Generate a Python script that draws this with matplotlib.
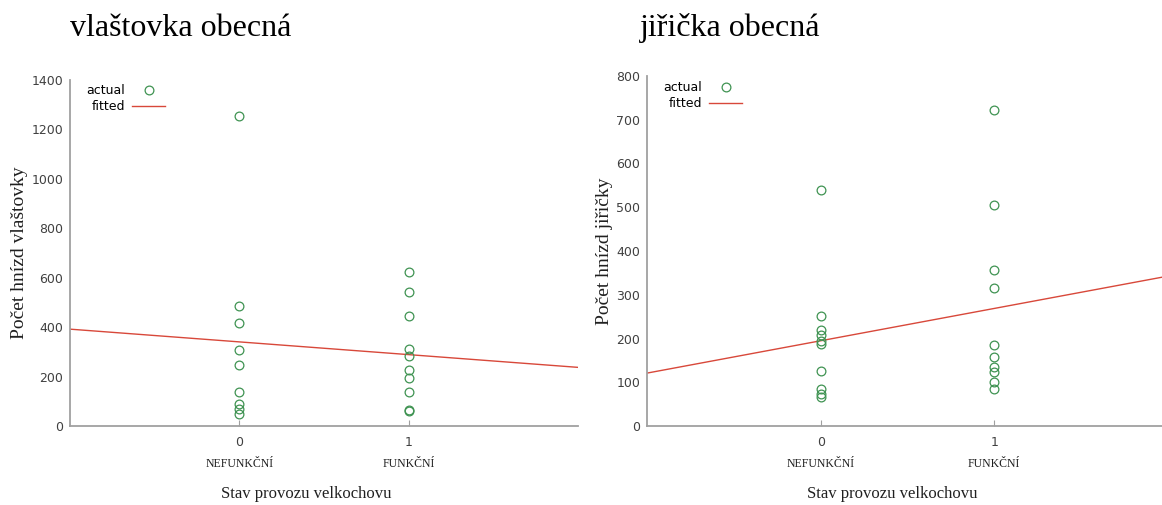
import matplotlib
matplotlib.use("Agg")
import matplotlib.pyplot as plt
import numpy as np
from matplotlib.lines import Line2D
import matplotlib.transforms as mtransforms

# ---- data ----
x_codes = [0, 1]
categories = ["NEFUNKČNÍ", "FUNKČNÍ"]
titles = ["vlaštovka obecná", "jiřička obecná"]
ylabels = ["Počet hnízd vlaštovky", "Počet hnízd jiřičky"]
xlabel = "Stav provozu velkochovu"

vlastovka_0 = [1255, 487, 418, 309, 245, 139, 90, 70, 50]
vlastovka_1 = [624, 541, 446, 310, 283, 227, 193, 139, 65, 60]
jiricka_0 = [539, 252, 220, 208, 194, 187, 125, 84, 73, 66]
jiricka_1 = [722, 505, 357, 315, 185, 158, 136, 124, 101, 84]

ylims = [(0, 1400), (0, 800)]
yticks = [list(range(0, 1401, 200)), list(range(0, 801, 100))]
xlims = [(-1, 2.0), (-1, 1.966)]

W, H = 1162, 505
fig = plt.figure(figsize=(W / 100, H / 100), dpi=100)

# axes boxes in pixels: left, top(px from top), right, bottom
boxes = [(70, 80, 578, 426), (647, 76, 1162, 426)]
title_x = [70, 640]
xlabel_cx = [306, 892]
ylabel_x = [28, 613]
legend_top = [79, 76]
legend_left = [81, 658]

green = "#3f9352"
red = "#d8483a"
axis_col = "#a0a0a0"
tick_col = "#404040"

series = [(vlastovka_0, vlastovka_1), (jiricka_0, jiricka_1)]

for i in range(2):
    l, t, r, b = boxes[i]
    ax = fig.add_axes([l / W, 1 - b / H, (r - l) / W, (b - t) / H])
    g0, g1 = series[i]
    xs = np.array([x_codes[0]] * len(g0) + [x_codes[1]] * len(g1), dtype=float)
    ys = np.array(g0 + g1, dtype=float)
    slope, intercept = np.polyfit(xs, ys, 1)
    xl = np.array(xlims[i])
    ax.plot(xl, intercept + slope * xl, color=red, lw=1.0, zorder=2, label="fitted")
    ax.plot(xs, ys, linestyle="none", marker="o", markersize=6.3, markerfacecolor="none",
            markeredgecolor=green, markeredgewidth=0.9, zorder=3, label="actual")
    ax.set_xlim(*xlims[i])
    ax.set_ylim(*ylims[i])
    ax.set_yticks(yticks[i])
    ax.set_xticks(x_codes)
    ax.set_xticklabels([str(c) for c in x_codes])
    for s in ["top", "right"]:
        ax.spines[s].set_visible(False)
    for s in ["left", "bottom"]:
        ax.spines[s].set_color(axis_col)
        ax.spines[s].set_linewidth(1.3)
    ax.tick_params(axis="y", length=0, pad=5, labelsize=9, labelcolor=tick_col)
    ax.tick_params(axis="x", direction="in", length=4, color=axis_col, pad=7,
                   labelsize=9, labelcolor=tick_col)
    trans = mtransforms.blended_transform_factory(ax.transData, ax.transAxes)
    for xc, cat in zip(x_codes, categories):
        ax.text(xc, -32 / (b - t), cat, transform=trans, ha="center", va="top",
                family="Liberation Serif", fontsize=8.5, color="#202020")
    ax.set_ylabel(ylabels[i], family="Liberation Serif", fontsize=14, color="#202020")
    ax.yaxis.set_label_coords((ylabel_x[i] - l) / (r - l), 0.5)
    fig.text(xlabel_cx[i] / W, 1 - 494 / H, xlabel, ha="center", va="center",
             family="Liberation Serif", fontsize=12, color="#202020")
    fig.text(title_x[i] / W, 1 - 28 / H, titles[i], ha="left", va="center",
             family="Liberation Serif", fontsize=23, color="black")
    handles = [Line2D([], [], linestyle="none", marker="o", markersize=6.3,
                      markerfacecolor="none", markeredgecolor=green, markeredgewidth=0.9),
               Line2D([], [], color=red, lw=1.0)]
    ax.legend(handles, ["actual", "fitted"], loc="upper left", frameon=False,
              markerfirst=False, fontsize=9, handlelength=2.7, handletextpad=0.55,
              labelspacing=0.25, borderaxespad=0.0,
              bbox_to_anchor=((legend_left[i] - l) / (r - l),
                              1 - (legend_top[i] - t) / (b - t)))

fig.savefig("out.png", dpi=100)
